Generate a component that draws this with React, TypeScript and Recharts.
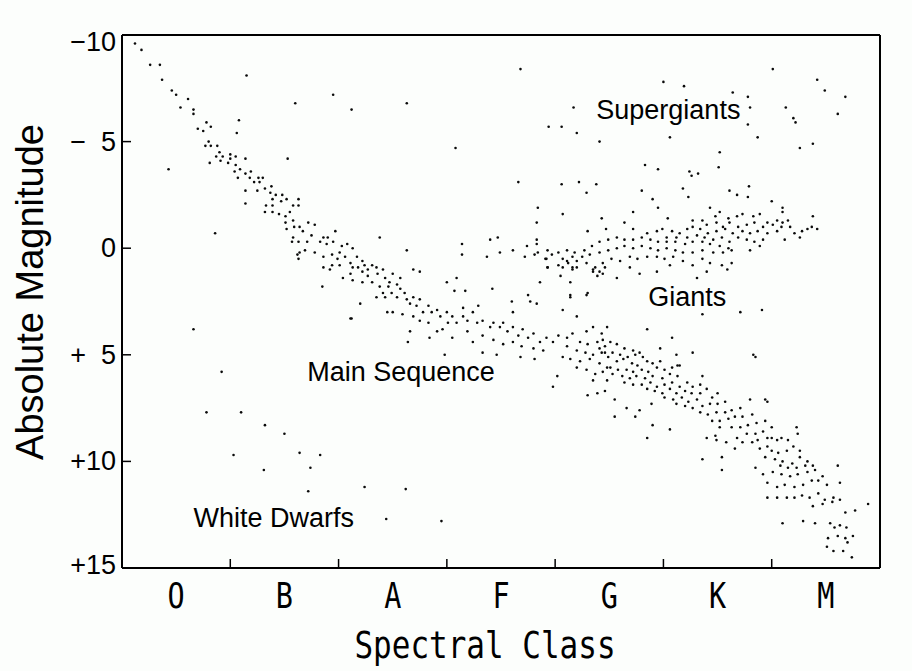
import { ScatterChart, Scatter, XAxis, YAxis } from "recharts";

type Pt = [number, number];

// spectral class index (O = 0 .. M = 7) and absolute magnitude
const classes = ["O", "B", "A", "F", "G", "K", "M"];
const classTicks = [0.5, 1, 1.5, 2, 2.5, 3, 3.5, 4, 4.5, 5, 5.5, 6, 6.5];
const boundaryTicks = [1, 2, 3, 4, 5, 6];
const magTicks = [-10, -5, 0, 5, 10, 15];
const magLabels = ["\u221210", "\u2212\u20075", "0", "+\u20075", "+10", "+15"];

const upperMainSequence: Pt[] = [
  [0.12, -9.6], [0.18, -9.3], [0.26, -8.6], [0.35, -8.6], [0.37, -7.9], [0.46, -7.4],
  [0.5, -7.2], [0.61, -7.0], [0.54, -6.6], [0.66, -6.5], [0.66, -6.3], [0.78, -5.9],
  [0.82, -5.7], [0.7, -5.6], [0.75, -5.5], [0.8, -5.0], [0.77, -4.8], [0.82, -4.8],
  [0.88, -4.8], [0.9, -4.5], [0.87, -4.3], [0.91, -4.1], [0.81, -4.0], [0.93, -4.3],
  [1.0, -4.4], [1.05, -4.3], [1.0, -4.2], [0.98, -4.0], [1.05, -3.9], [1.04, -3.6],
  [1.09, -3.7], [1.14, -3.5], [1.07, -3.3], [1.18, -3.3], [1.19, -3.6], [1.26, -3.3],
  [1.3, -3.3], [1.22, -3.1], [1.27, -3.1], [1.14, -2.7], [1.25, -2.7], [1.32, -2.8],
  [1.38, -2.9], [1.37, -2.6], [1.42, -2.5], [1.48, -2.5], [1.39, -2.3], [1.47, -2.2],
  [1.52, -2.3], [1.58, -2.0], [1.63, -2.3], [1.63, -2.0], [1.33, -2.0], [1.39, -2.0],
  [1.32, -1.7], [1.39, -1.7], [1.45, -1.6], [1.51, -1.5], [1.55, -1.7], [1.58, -1.3],
  [1.51, -1.2], [1.52, -0.9], [1.59, -1.0], [1.64, -1.0], [1.72, -1.2], [1.78, -1.1],
  [1.67, -0.8], [1.75, -0.6], [1.58, -0.5], [1.63, -0.3], [1.57, -0.3], [1.71, -0.3],
  [1.64, 0.2], [1.69, 0.1], [1.62, 0.3], [1.63, 0.5], [1.78, 0.2],
];

const mainSequence: Pt[] = [
  [1.86, -0.5], [1.9, -0.5], [1.97, -0.8], [1.83, -0.3], [1.89, -0.2], [1.95, -0.3],
  [2.03, -0.1], [2.08, -0.2], [2.13, 0.0], [1.86, 0.4], [1.94, 0.3], [2.01, 0.2],
  [1.99, 0.5], [2.06, 0.4], [1.94, 0.8], [1.86, 0.9], [1.92, 1.0], [2.01, 0.8],
  [2.11, 0.7], [2.17, 0.4], [2.22, 0.6], [2.13, 0.9], [2.18, 0.9], [2.24, 0.8],
  [2.31, 0.8], [2.35, 0.9], [2.27, 1.0], [2.22, 1.1], [2.11, 1.2], [2.04, 1.4],
  [2.13, 1.5], [2.22, 1.6], [2.27, 1.3], [2.31, 1.6], [2.36, 1.2], [2.41, 1.0],
  [2.43, 1.4], [2.5, 1.2], [2.47, 1.6], [2.38, 1.8], [2.46, 1.8], [2.54, 1.7],
  [2.57, 1.4], [2.57, 1.9], [2.49, 2.1], [2.41, 2.1], [2.35, 2.3], [2.43, 2.3],
  [2.54, 2.3], [2.61, 2.1], [2.63, 2.4], [2.69, 2.3], [2.66, 2.6], [2.72, 2.7],
  [2.75, 2.4], [2.78, 3.0], [2.83, 2.7], [2.86, 3.0], [2.91, 2.9], [2.94, 3.2],
  [3.0, 3.0], [3.05, 3.2], [3.09, 3.5], [3.15, 3.2], [3.19, 3.4], [3.24, 3.0],
  [3.28, 3.5], [3.33, 3.4], [3.4, 3.7], [3.43, 3.5], [3.49, 3.7], [3.52, 3.5],
  [3.56, 3.9], [3.61, 3.7], [3.66, 4.1], [3.7, 3.8], [3.75, 4.2], [3.8, 4.0],
  [3.86, 4.4], [3.92, 4.2], [3.98, 4.4], [4.03, 4.1], [3.01, 3.5], [2.96, 3.8],
  [2.91, 3.9], [2.83, 3.5], [2.75, 3.4], [2.69, 3.2], [2.59, 3.1], [2.5, 3.0],
  [2.45, 3.0], [2.66, 3.9], [2.64, 4.4], [2.84, 4.2], [3.05, 4.2], [3.19, 3.9],
  [3.24, 4.4], [3.33, 4.1], [3.43, 4.3], [3.52, 4.5], [3.61, 4.4], [3.69, 4.6],
  [3.8, 4.7], [3.89, 4.8], [2.98, 5.0], [3.33, 4.9], [3.46, 5.0], [3.68, 5.1],
  [3.81, 5.2], [3.98, 6.5], [4.02, 6.0],
  [4.29, 3.9], [4.35, 3.7], [4.43, 4.0], [4.48, 3.7], [4.16, 4.0], [4.11, 4.2],
  [4.23, 4.4], [4.3, 4.5], [4.39, 4.4], [4.46, 4.6], [4.11, 4.6], [4.2, 4.8],
  [4.28, 4.9], [4.35, 5.0], [4.43, 4.9], [4.49, 5.1], [4.07, 5.1], [4.14, 5.2],
  [4.23, 5.3], [4.32, 5.2], [4.41, 5.4], [4.48, 5.6], [4.2, 5.6], [4.29, 5.7],
  [4.37, 5.9], [4.44, 5.8], [4.35, 6.2], [4.39, 6.8], [4.46, 6.7], [4.3, 6.9],
  [4.55, 7.1], [4.66, 7.5], [4.78, 7.6],
];

const lowerMainSequence: Pt[] = [
  [4.44, 4.3], [4.51, 4.4], [4.57, 4.5], [4.64, 4.7], [4.72, 4.8], [4.78, 4.9],
  [4.41, 4.7], [4.46, 4.9], [4.53, 4.9], [4.6, 5.0], [4.67, 5.1], [4.74, 5.0],
  [4.81, 5.1], [4.57, 5.3], [4.63, 5.2], [4.71, 5.4], [4.76, 5.5], [4.85, 5.3],
  [4.9, 5.4], [4.97, 5.3], [4.51, 5.6], [4.58, 5.7], [4.66, 5.7], [4.72, 5.8],
  [4.8, 5.7], [4.86, 5.8], [4.94, 5.6], [5.01, 5.7], [5.08, 5.6], [5.13, 5.5],
  [4.53, 5.9], [4.62, 6.0], [4.69, 6.1], [4.75, 6.0], [4.83, 6.1], [4.9, 6.0],
  [4.99, 6.1], [5.06, 5.9], [5.13, 6.0], [4.48, 6.2], [4.64, 6.3], [4.72, 6.4],
  [4.8, 6.4], [4.88, 6.3], [4.94, 6.5], [5.01, 6.4], [5.08, 6.3], [5.15, 6.5],
  [5.22, 6.3], [5.27, 6.5], [5.34, 6.4], [4.85, 6.6], [4.92, 6.7], [4.99, 6.8],
  [5.06, 6.6], [5.12, 6.8], [5.2, 6.7], [5.26, 6.8], [5.34, 6.8], [5.4, 6.6],
  [5.01, 7.0], [5.09, 7.1], [5.17, 7.0], [5.23, 7.2], [5.31, 7.1], [5.45, 7.0],
  [5.5, 6.8], [4.89, 7.3], [5.12, 7.3], [5.2, 7.4], [5.27, 7.5], [5.36, 7.4],
  [5.43, 7.3], [5.5, 7.3], [5.57, 7.2], [5.34, 7.7], [5.41, 7.8], [5.49, 7.7],
  [5.57, 7.7], [5.63, 7.6], [5.71, 7.5], [5.45, 8.1], [5.52, 8.1], [5.6, 8.0],
  [5.66, 7.9], [5.73, 7.9], [5.82, 7.8], [5.52, 8.4], [5.63, 8.4], [5.71, 8.4],
  [5.78, 8.3], [5.86, 8.2], [5.94, 8.1], [6.0, 8.4], [5.4, 8.9], [5.48, 8.8],
  [5.68, 8.9], [5.77, 8.7], [5.85, 8.7], [5.92, 8.6], [6.0, 8.9], [6.05, 9.0],
  [5.49, 9.0], [5.58, 9.1], [5.73, 9.1], [5.82, 9.1], [5.87, 9.0], [5.96, 8.9],
  [6.09, 8.9], [6.15, 9.0], [6.14, 9.5], [6.2, 9.3], [6.26, 9.5], [5.89, 9.4],
  [5.96, 9.3], [6.0, 9.5], [6.06, 9.6], [5.66, 9.4], [5.94, 9.8], [6.03, 9.9],
  [6.1, 10.0], [6.19, 10.1], [6.26, 9.8], [6.33, 10.0], [6.08, 10.2], [6.15, 10.3],
  [6.23, 10.3], [6.31, 10.2], [6.38, 10.2], [5.85, 10.3], [5.92, 10.6], [6.01, 10.5],
  [6.09, 10.6], [6.17, 10.7], [6.24, 10.6], [6.33, 10.5], [6.4, 10.4], [6.47, 10.7],
  [5.96, 11.0], [6.05, 11.2], [6.12, 11.1], [6.21, 11.2], [6.29, 11.1], [6.37, 10.9],
  [6.43, 10.9], [6.51, 11.1], [5.96, 11.7], [6.05, 11.7], [6.14, 11.7], [6.21, 11.7],
  [6.28, 11.6], [6.35, 11.7], [6.43, 11.5], [6.49, 11.8], [6.57, 11.7], [6.38, 12.1],
  [6.47, 12.0], [6.56, 11.9], [6.63, 11.8], [6.68, 12.4], [6.54, 12.9], [6.58, 13.1],
  [6.63, 13.0], [6.69, 13.1], [6.52, 13.6], [6.61, 13.5], [6.68, 13.6], [6.75, 13.5],
  [6.51, 14.0], [6.57, 14.2], [6.66, 14.2], [6.74, 14.5], [6.7, 13.8],
];

const giants: Pt[] = [
  [5.43, -1.9], [5.52, -1.7], [5.48, -1.5], [5.6, -1.4], [5.68, -1.5], [5.73, -1.6],
  [5.83, -1.5], [5.89, -1.6], [5.96, -1.2], [6.05, -1.3], [6.1, -1.2], [6.15, -1.3],
  [5.36, -1.3], [5.4, -1.1], [5.49, -1.2], [5.55, -1.0], [5.61, -1.2], [5.69, -1.0],
  [5.77, -1.1], [5.84, -1.2], [5.92, -1.0], [6.01, -1.1], [6.09, -1.0], [6.17, -1.0],
  [6.21, -0.7], [6.28, -0.8], [6.33, -0.9], [6.37, -1.0], [6.42, -0.9], [6.12, -0.4],
  [6.26, -0.5], [6.05, -0.8], [5.96, -0.7], [5.87, -0.8], [5.8, -0.7], [5.73, -0.8],
  [5.64, -0.7], [5.57, -0.9], [5.49, -0.8], [5.41, -0.7], [5.34, -0.9], [5.27, -1.0],
  [5.22, -0.9], [5.15, -0.7], [5.08, -0.8], [4.99, -0.9], [4.94, -0.8], [5.03, -0.5],
  [5.12, -0.5], [5.22, -0.5], [5.31, -0.6], [5.38, -0.5], [5.46, -0.4], [5.54, -0.5],
  [5.61, -0.3], [5.69, -0.5], [5.77, -0.4], [5.84, -0.3], [5.92, -0.4], [5.6, 0.0],
  [5.8, 0.1], [5.89, -0.1], [5.52, -0.1], [5.43, -0.2], [5.36, -0.3], [5.27, -0.3],
  [5.2, -0.2], [5.11, -0.3], [5.03, -0.3], [4.95, -0.3], [4.88, -0.4], [4.8, -0.5],
  [4.72, -0.4], [4.64, -0.4], [4.57, -0.5], [4.49, -0.4], [4.41, -0.3], [4.34, -0.1],
  [4.27, 0.1], [4.18, 0.2], [4.11, 0.1], [4.03, 0.2], [3.97, 0.3], [3.91, 0.5],
  [3.84, 0.2], [4.07, 0.5], [4.16, 0.4], [4.25, 0.4], [4.32, 0.3], [4.41, 0.2],
  [4.49, 0.1], [4.57, 0.0], [4.64, -0.1], [4.72, 0.0], [4.8, -0.1], [4.88, 0.0],
  [4.95, 0.1], [5.03, 0.0], [5.11, 0.1], [5.18, 0.2], [5.27, 0.2], [5.36, 0.1],
  [5.46, 0.2], [5.55, 0.2], [5.63, 0.1], [3.93, 0.9], [4.03, 0.8], [4.12, 0.7],
  [4.2, 0.9], [4.29, 0.7], [4.37, 0.9], [4.44, 0.7], [4.52, 0.5], [4.6, 0.6],
  [4.69, 0.4], [4.76, 0.5], [4.85, 0.4], [4.94, 0.4], [5.01, 0.5], [5.09, 0.4],
  [5.18, 0.6], [5.27, 0.8], [5.36, 0.5], [5.43, 0.7], [5.54, 0.8], [5.63, 0.7],
  [4.16, 1.0], [4.35, 1.0], [4.44, 1.2], [4.57, 1.4], [4.05, 1.3], [4.14, 1.6],
  [3.75, 2.2], [4.29, 2.2], [4.14, 2.3], [4.41, 1.1], [4.69, 0.9], [4.78, 1.2],
  [4.94, 1.1], [5.06, 0.8], [5.31, 1.4], [5.4, 1.1], [5.59, 1.0], [3.83, -0.2],
  [3.74, -0.1], [4.07, 0.9], [4.11, 0.6], [4.2, 0.6], [4.16, 0.9], [4.35, 1.1],
  [4.39, 1.3], [4.46, 0.9], [4.3, 2.1], [4.14, 2.2],
];

const supergiants: Pt[] = [
  [5.0, -7.8], [5.19, -7.6], [5.64, -7.3], [5.78, -7.1], [5.8, -6.6], [4.17, -6.6],
  [5.78, -5.8], [5.87, -5.2], [6.01, -8.4], [6.13, -6.6], [6.2, -6.1], [6.22, -5.9],
  [6.26, -4.7], [6.38, -4.9], [6.42, -7.9], [6.49, -7.4], [6.68, -7.1], [6.61, -6.3],
  [3.94, -5.7], [4.06, -5.7], [4.2, -5.4], [4.41, -5.0], [5.06, -5.2], [5.52, -4.5],
  [4.83, -3.9], [4.95, -3.7], [5.51, -3.8], [5.24, -3.6], [5.32, -3.5], [5.26, -3.4],
  [3.68, -8.4], [4.06, -3.0], [4.22, -3.1], [4.29, -2.6], [4.38, -3.0], [4.8, -2.7],
  [5.18, -2.8], [5.61, -2.7], [5.68, -2.5], [5.79, -2.9], [5.78, -2.4], [4.9, -2.3],
  [4.95, -1.9], [5.23, -2.4], [4.72, -1.7], [4.07, -1.6], [4.43, -1.4], [5.04, -1.4],
  [6.0, -2.2], [6.1, -1.9], [6.1, -1.7], [6.38, -1.5], [4.64, -1.2], [4.3, -0.8],
  [4.47, -0.9], [4.72, -0.9], [4.85, -0.7], [5.27, -1.3], [3.66, -3.1],
  [1.15, -8.1], [1.6, -6.8], [1.95, -7.2], [2.12, -6.5], [2.63, -6.8], [3.08, -4.7],
  [1.53, -4.2], [1.08, -6.0], [1.06, -5.4], [0.43, -3.7], [1.14, -4.2], [1.14, -2.1],
  [0.86, -0.7],
];

const strays: Pt[] = [
  [2.12, 3.3], [1.85, 1.8], [2.2, 2.6], [2.38, -0.5], [2.63, 0.1], [3.14, -0.2],
  [3.14, 0.3], [3.37, 0.4], [3.4, -0.4], [3.47, -0.5], [3.49, 0.2], [3.61, 0.1],
  [3.72, 0.4], [3.81, 0.3], [3.84, -1.9], [3.83, -1.2], [3.83, -0.4], [3.93, 0.1],
  [3.92, 0.5], [3.93, 0.9], [3.86, 1.6], [3.83, 2.6], [3.77, 2.5], [3.6, 2.5],
  [3.61, 3.0], [3.42, 1.9], [3.29, 2.7], [3.15, 2.8], [3.07, 2.0], [3.17, 2.0],
  [3.0, 1.6], [3.09, 1.4], [2.69, 1.0], [2.75, 1.1], [4.07, 2.9], [4.2, 3.2],
  [4.55, 7.9], [4.74, 7.9], [4.9, 8.3], [5.06, 8.5], [4.85, 8.9], [5.12, 5.0],
  [5.27, 4.9], [5.15, 5.5], [5.36, 6.0], [5.08, 4.2], [4.97, 4.7], [4.85, 3.8],
  [5.83, 5.0], [5.8, 7.1], [5.94, 7.1], [5.36, 3.1], [5.71, 3.0], [5.91, 2.9],
  [6.23, 8.4], [6.24, 8.7], [5.85, 5.1], [5.96, 7.2], [5.54, 10.4], [5.36, 9.9],
  [5.54, 9.8], [6.1, 12.9], [6.29, 12.8], [6.4, 12.9], [6.63, 11.0], [6.61, 10.2],
  [6.89, 12.0], [6.77, 12.3], [2.11, 3.3],
];

const whiteDwarfs: Pt[] = [
  [0.66, 3.8], [0.92, 5.8], [0.78, 7.7], [1.1, 7.7], [1.32, 8.3], [1.5, 8.7],
  [1.03, 9.7], [1.31, 10.4], [1.64, 9.6], [1.74, 10.3], [1.83, 9.7], [1.72, 11.4],
  [2.24, 11.2], [2.62, 11.3], [2.44, 12.7], [2.95, 12.8],
];

const regionLabels = [
  { x: 4.38, y: -6.08, text: "Supergiants" },
  { x: 4.86, y: 2.7, text: "Giants" },
  { x: 1.71, y: 6.22, text: "Main Sequence" },
  { x: 0.66, y: 13.07, text: "White Dwarfs" },
];

const toPoints = (pts: Pt[]) => pts.map(([x, y]) => ({ x, y }));

const stars = [
  ...upperMainSequence,
  ...mainSequence,
  ...lowerMainSequence,
  ...giants,
  ...supergiants,
  ...strays,
  ...whiteDwarfs,
];

const StarDot = (props: any) => (
  <circle cx={props.cx} cy={props.cy} r={1.3} fill="#0a0a0a" />
);

const RegionLabel = (props: any) => (
  <text
    x={props.cx}
    y={props.cy}
    fontFamily="Liberation Sans"
    fontSize={27}
    fill="#000"
  >
    {props.payload.text}
  </text>
);

const BottomTick = ({ x, y, payload }: any) => {
  const v = payload.value;
  if (Number.isInteger(v)) {
    return <line x1={x} x2={x} y1={y} y2={y - 9} stroke="#000" strokeWidth={1.5} />;
  }
  return (
    <text
      transform={`translate(${x},${y + 40}) scale(0.95,1.2)`}
      textAnchor="middle"
      fontFamily="DejaVu Sans Mono"
      fontSize={30}
      fill="#000"
    >
      {classes[Math.floor(v)]}
    </text>
  );
};

const TopTick = ({ x, y }: any) => (
  <line x1={x} x2={x} y1={y} y2={y + 9} stroke="#000" strokeWidth={1.5} />
);

const LeftTick = ({ x, y, payload, index }: any) => {
  const shift = payload.value === -10 ? 7 : payload.value === 15 ? -3 : 0;
  return (
    <g>
      <line x1={x} x2={x + 9} y1={y} y2={y} stroke="#000" strokeWidth={1.5} />
      <text
        x={x - 6}
        y={y + shift}
        textAnchor="end"
        dominantBaseline="central"
        fontFamily="Liberation Sans"
        fontSize={27}
        fill="#000"
      >
        {magLabels[index]}
      </text>
    </g>
  );
};

const RightTick = ({ x, y }: any) => (
  <line x1={x} x2={x - 9} y1={y} y2={y} stroke="#000" strokeWidth={1.5} />
);

export default function App() {
  return (
    <div style={{ position: "absolute", left: 0, top: 0, width: 912, height: 671, background: "#fcfefc" }}>
      <ScatterChart width={912} height={671} margin={{ top: 0, right: 0, bottom: 0, left: 0 }}>
        <XAxis
          xAxisId="bottom"
          dataKey="x"
          type="number"
          domain={[0, 7]}
          ticks={classTicks}
          interval={0}
          height={103}
          tickSize={0}
          tickMargin={0}
          tickLine={false}
          axisLine={{ stroke: "#000", strokeWidth: 2 }}
          tick={BottomTick}
          label={{
            content: () => (
              <text
                transform="translate(485,658) scale(1,1.18)"
                textAnchor="middle"
                fontFamily="DejaVu Sans Mono"
                fontSize={31}
                fill="#000"
              >
                Spectral Class
              </text>
            ),
          }}
        />
        <XAxis
          xAxisId="top"
          orientation="top"
          dataKey="x"
          type="number"
          domain={[0, 7]}
          ticks={boundaryTicks}
          interval={0}
          height={35}
          tickSize={0}
          tickMargin={0}
          tickLine={false}
          axisLine={{ stroke: "#000", strokeWidth: 2 }}
          tick={TopTick}
        />
        <YAxis
          yAxisId="left"
          dataKey="y"
          type="number"
          domain={[-10, 15]}
          reversed
          ticks={magTicks}
          interval={0}
          width={122}
          tickSize={0}
          tickMargin={0}
          tickLine={false}
          axisLine={{ stroke: "#000", strokeWidth: 2 }}
          tick={LeftTick}
          label={{
            content: () => (
              <text
                transform="translate(43,292) rotate(-90)"
                textAnchor="middle"
                fontFamily="Liberation Sans"
                fontSize={38}
                fill="#000"
              >
                Absolute Magnitude
              </text>
            ),
          }}
        />
        <YAxis
          yAxisId="right"
          orientation="right"
          dataKey="y"
          type="number"
          domain={[-10, 15]}
          reversed
          ticks={magTicks}
          interval={0}
          width={32}
          tickSize={0}
          tickMargin={0}
          tickLine={false}
          axisLine={{ stroke: "#000", strokeWidth: 2 }}
          tick={RightTick}
        />
        <Scatter
          xAxisId="bottom"
          yAxisId="left"
          data={toPoints(stars)}
          shape={StarDot}
          isAnimationActive={false}
        />
        <Scatter
          xAxisId="bottom"
          yAxisId="left"
          data={regionLabels}
          shape={RegionLabel}
          isAnimationActive={false}
        />
      </ScatterChart>
    </div>
  );
}
